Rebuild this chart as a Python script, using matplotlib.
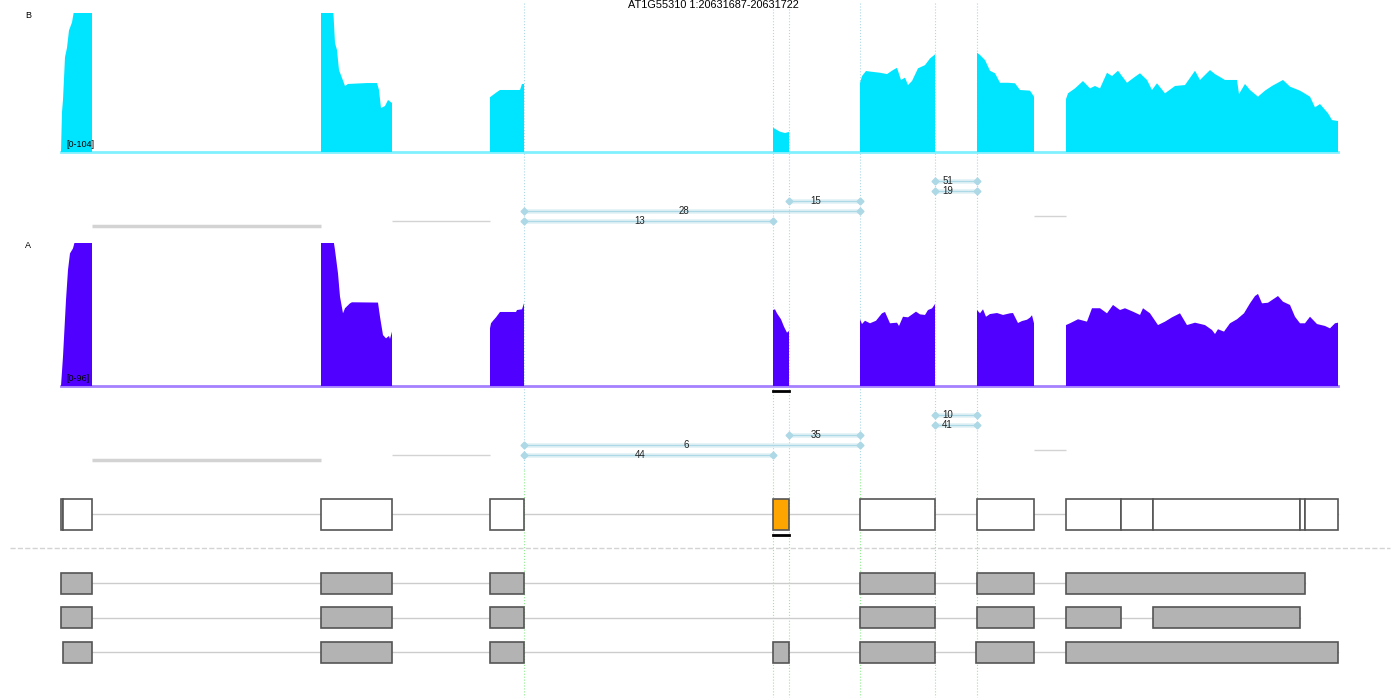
import matplotlib
matplotlib.use("Agg")
import matplotlib.pyplot as plt
from matplotlib.patches import Rectangle

plt.rcParams['font.family'] = ['Liberation Sans', 'DejaVu Sans']

title = "AT1G55310 1:20631687-20631722"

# coverage track B: (position, depth) per exon block, max shown 104
cov_b = [
    [(61, 0), (62, 30), (63, 39), (65, 71), (67, 78), (69, 91), (72, 97), (75, 110), (92, 110)],
    [(321, 110), (333, 110), (335, 81.5), (337, 76.3), (339, 61.3), (342, 55.4), (345, 49.4),
     (348, 50.9), (367, 51.6), (377, 51.6), (379, 46.4), (381, 32.9), (385, 34.4), (388, 38.9), (392, 36.7)],
    [(490, 41), (497, 44.9), (500, 46.4), (520, 46.4), (522, 50.9), (524, 50.9)],
    [(773, 18.2), (780, 15.2), (785, 14.2), (789, 15)],
    [(860, 51.6), (862, 56.8), (866, 60.6), (871, 60.1), (880, 59.3), (887, 58.3), (893, 61.3),
     (897, 63), (901, 53.9), (905, 55.6), (908, 50.1), (912, 53.1), (918, 62.6), (925, 65),
     (930, 70), (935, 73)],
    [(977, 74.3), (980, 72.6), (985, 68.8), (990, 60.8), (995, 58.9), (1000, 51.8), (1008, 51.8),
     (1015, 51.4), (1020, 46.4), (1030, 45.9), (1034, 41.4)],
    [(1066, 39.6), (1068, 43.9), (1075, 47.6), (1083, 53.1), (1090, 47.6), (1095, 49.4),
     (1100, 47.6), (1107, 59.3), (1112, 56.8), (1118, 60.8), (1127, 51.8), (1135, 56.3),
     (1140, 58.9), (1147, 53.9), (1152, 46.4), (1157, 51.4), (1165, 43.9), (1175, 49.4),
     (1185, 50.1), (1195, 60.8), (1200, 53.9), (1210, 61.3), (1215, 58.3), (1225, 53.9),
     (1237, 53.9), (1239, 43.4), (1245, 50.9), (1250, 46.4), (1258, 41.4), (1265, 45.9),
     (1272, 49.4), (1283, 53.9), (1290, 48.9), (1300, 45.9), (1310, 41.4), (1315, 33.4),
     (1320, 35.9), (1328, 29), (1332, 23.9), (1338, 23.2)],
]

# coverage track A, max shown 96
cov_a = [
    [(61, 0), (63, 19.7), (66, 57.7), (68, 77.9), (70, 89), (73, 92.4), (76, 100), (92, 100)],
    [(321, 100), (333, 100), (335, 91.3), (338, 75.6), (340, 60), (343, 48.8), (345, 52.2),
     (350, 55.5), (352, 56.2), (378, 56), (380, 46.5), (383, 34.2), (386, 32), (389, 33.6),
     (390, 31.6), (392, 36.5)],
    [(490, 38.7), (491, 42.1), (493, 43.8), (496, 46.1), (500, 49.7), (516, 49.7), (517, 51),
     (522, 51.5), (524, 55.5)],
    [(773, 51), (775, 51.5), (777, 48.8), (781, 44.8), (784, 39.8), (787, 35.8), (789, 36.9)],
    [(860, 44.8), (862, 41.6), (865, 43.8), (870, 42.1), (876, 43.8), (882, 48.8), (885, 49.7),
     (890, 42.1), (897, 42.5), (899, 40.3), (903, 46.5), (908, 46.1), (916, 49.9), (920, 48.1),
     (925, 47.7), (928, 51), (932, 52.1), (935, 55)],
    [(977, 51), (980, 48.8), (983, 51.5), (986, 46.5), (990, 48.3), (997, 49), (1003, 47.7),
     (1010, 48.8), (1013, 49), (1018, 42.3), (1022, 43.6), (1027, 44.5), (1030, 45.9),
     (1032, 47.5), (1034, 42.1)],
    [(1066, 40.9), (1070, 42.1), (1078, 44.8), (1087, 43.2), (1092, 52.2), (1100, 52.2),
     (1107, 48.8), (1113, 54.4), (1120, 51), (1125, 52.2), (1133, 49.9), (1140, 47.7),
     (1143, 52.2), (1150, 48.8), (1158, 40.9), (1165, 43.2), (1172, 46.1), (1180, 48.8),
     (1187, 40.9), (1195, 42.5), (1205, 40.9), (1212, 37.6), (1215, 34.9), (1218, 38.1),
     (1224, 36.5), (1230, 42.1), (1237, 44.8), (1244, 48.8), (1250, 55.5), (1255, 60.4),
     (1258, 61.8), (1262, 55.5), (1268, 55.9), (1278, 60.4), (1283, 56.6), (1290, 54.4),
     (1295, 46.5), (1300, 42.1), (1305, 42.1), (1310, 46.5), (1317, 41.6), (1325, 40.3),
     (1330, 38.7), (1335, 42.1), (1338, 42.5)],
]

# junctions: (start, end, count)
junc_b = [(935, 977, 51), (935, 977, 19), (789, 860, 15), (524, 860, 28), (524, 773, 13)]
junc_a = [(935, 977, 10), (935, 977, 41), (789, 860, 35), (524, 860, 6), (524, 773, 44)]
# zero-count introns (start, end, width)
flat_introns = [(92, 321, 2.5), (392, 490, 1.0), (1034, 1066, 1.0)]

splice_sites = [524, 773, 789, 860, 935, 977]

# transcripts
main_tx = [(61, 63), (63, 92), (321, 392), (490, 524), (773, 789), (860, 935), (977, 1034),
           (1066, 1121), (1121, 1153), (1153, 1300), (1300, 1305), (1305, 1338)]
highlight_exon = (773, 789)
other_tx = [
    [(61, 92), (321, 392), (490, 524), (860, 935), (977, 1034), (1066, 1305)],
    [(61, 92), (321, 392), (490, 524), (860, 935), (977, 1034), (1066, 1121), (1153, 1300)],
    [(63, 92), (321, 392), (490, 524), (773, 789), (860, 935), (976, 1034), (1066, 1338)],
]

W, H = 1400, 700
fig = plt.figure(figsize=(14, 7), dpi=100)

# background overlay in pixel-like units
ov = fig.add_axes([0, 0, 1, 1])
ov.set_xlim(0, W)
ov.set_ylim(H, 0)
ov.axis('off')


def add_track(top, base, ymax, blocks, color, base_color, label, rng):
    ax = fig.add_axes([0, 1 - base / H, 1, (base - top) / H])
    ax.set_xlim(0, W)
    ax.set_ylim(0, ymax)
    ax.axis('off')
    ax.patch.set_alpha(0)
    ax.plot([blocks[0][0][0], blocks[-1][-1][0]], [0, 0], color=base_color, lw=2,
            zorder=1, clip_on=False)
    for blk in blocks:
        xs = [blk[0][0]] + [p[0] for p in blk] + [blk[-1][0]]
        ys = [0] + [p[1] for p in blk] + [0]
        ax.fill(xs, ys, color=color, lw=0, zorder=2)
    ax.text(blocks[0][0][0] + 5, 2, rng, fontsize=6.5, ha='left', va='bottom', zorder=3)
    ov.text(25, top - 2, label, fontsize=6.5, ha='left', va='top')
    return ax


axB = add_track(13, 152, 104, cov_b, '#00e5ff', '#80f0ff', 'B', '[0-104]')
axA = add_track(243, 386, 96, cov_a, '#5000ff', '#a580ff', 'A', '[0-96]')

ov.text(713, 0, title, fontsize=7.8, ha='center', va='top')

# splice site guides
for x in splice_sites:
    ov.plot([x, x], [3, 470], ls=':', color='#add8e6', lw=0.8, zorder=0)
    ov.plot([x, x], [470, 697], ls=':', color='#90ee90', lw=0.8, zorder=0)


def draw_junctions(juncs, y0, flat_y0):
    for i, (s, e, n) in enumerate(juncs):
        y = y0 + i * 10
        ov.plot([s, e], [y, y], color='#add8e6', lw=3.5, alpha=0.3, solid_capstyle='butt')
        ov.plot([s, e], [y, y], color='#add8e6', lw=1, marker='D', ms=3.5,
                markerfacecolor='#add8e6', markeredgecolor='#add8e6')
        ov.text((s + e) / 2 - 3, y, str(n), fontsize=7, ha='right', va='center', color='#222222')
    for j, (s, e, w) in enumerate(flat_introns):
        y = flat_y0 - j * 5
        ov.plot([s, e], [y, y], color='#d3d3d3', lw=w, solid_capstyle='butt')


draw_junctions(junc_b, 181, 226)
draw_junctions(junc_a, 415, 460)

# black marks under highlighted exon
ov.plot(highlight_exon, [391, 391], color='black', lw=2)
ov.plot(highlight_exon, [535, 535], color='black', lw=2)


def draw_tx(exons, yc, h, face, edge='#555555'):
    ov.plot([exons[0][0], exons[-1][1]], [yc, yc], color='#cccccc', lw=1, zorder=1)
    for s, e in exons:
        fc = '#ffa500' if (s, e) == highlight_exon and face == 'white' else face
        ov.add_patch(Rectangle((s, yc - h / 2), e - s, h, facecolor=fc, edgecolor=edge,
                               lw=1.2, zorder=2))


draw_tx(main_tx, 514, 31, 'white')
ov.plot([10, 1390], [548, 548], ls='--', color='#d3d3d3', lw=1)
for k, tx in enumerate(other_tx):
    draw_tx(tx, 583 + k * 34.5, 21, '#b3b3b3')

fig.savefig('out.png', dpi=100)
